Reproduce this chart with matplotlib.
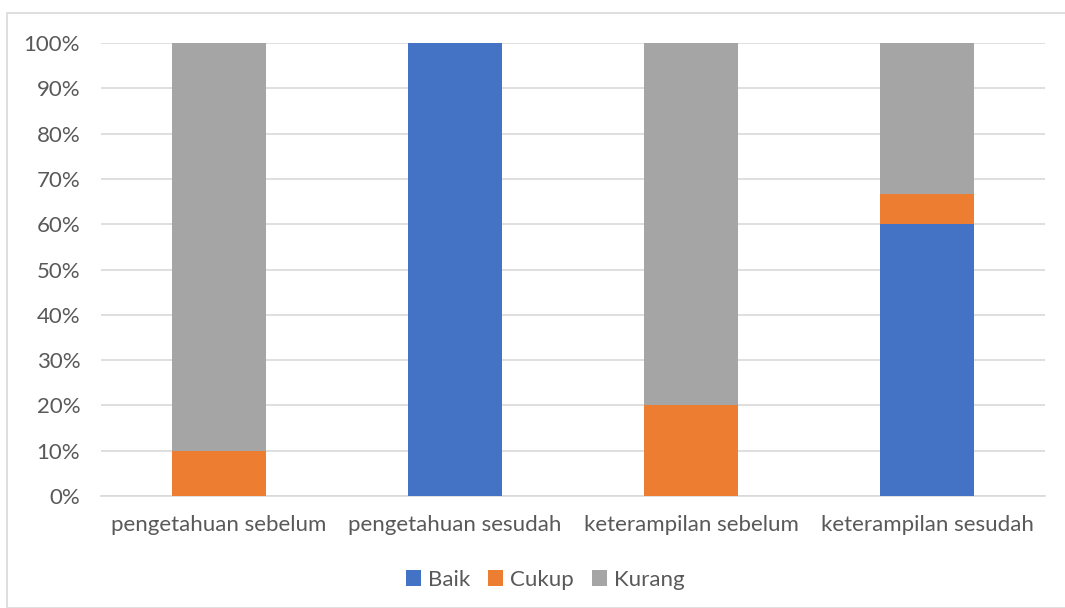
import matplotlib
matplotlib.use("Agg")
import matplotlib.pyplot as plt
import numpy as np
from matplotlib.patches import Rectangle
from matplotlib.ticker import PercentFormatter

categories = ["pengetahuan sebelum", "pengetahuan sesudah", "keterampilan sebelum", "keterampilan sesudah"]
baik = [0, 100, 0, 60]
cukup = [10, 0, 20, 6.7]
kurang = [90, 0, 80, 33.3]
yticks = [0, 10, 20, 30, 40, 50, 60, 70, 80, 90, 100]

plt.rcParams['font.family'] = ['Lato', 'DejaVu Sans']

W, H = 1065, 608
fig = plt.figure(figsize=(W/100, H/100), dpi=100)
ax = fig.add_axes([101/W, 1-496/H, (1045-101)/W, (496-43)/H])

x = np.arange(len(categories))
bw = 0.4
c_baik, c_cukup, c_kurang = "#4472C4", "#ED7D31", "#A5A5A5"
ax.bar(x, baik, bw, color=c_baik, label="Baik", zorder=3)
ax.bar(x, cukup, bw, bottom=baik, color=c_cukup, label="Cukup", zorder=3)
ax.bar(x, kurang, bw, bottom=np.array(baik)+np.array(cukup), color=c_kurang, label="Kurang", zorder=3)

ax.set_xlim(-0.5, len(categories)-0.5)
ax.set_ylim(0, 100)
ax.set_yticks(yticks)
ax.yaxis.set_major_formatter(PercentFormatter(decimals=0))
ax.set_xticks(x)
ax.set_xticklabels(categories)
ax.grid(axis='y', color='#D9D9D9', linewidth=1.2, zorder=0)
for s in ['top', 'right', 'left']:
    ax.spines[s].set_visible(False)
ax.spines['bottom'].set_color('#D9D9D9')
ax.spines['bottom'].set_linewidth(1.2)
ax.tick_params(axis='both', length=0, labelsize=16, labelcolor='#595959')
ax.tick_params(axis='y', pad=15)
ax.tick_params(axis='x', pad=14)

leg = fig.legend(loc='center', bbox_to_anchor=(545/W, 1-580/H), ncol=3, frameon=False,
                 fontsize=16, handlelength=0.7, handleheight=0.7, handletextpad=0.3,
                 columnspacing=0.8)
for t in leg.get_texts():
    t.set_color('#595959')

fig.patches.append(Rectangle((7/W, 0), 1.2, 1-13/H, transform=fig.transFigure,
                             fill=False, edgecolor='#D9D9D9', linewidth=1.2))

fig.savefig("out.png", dpi=100)
